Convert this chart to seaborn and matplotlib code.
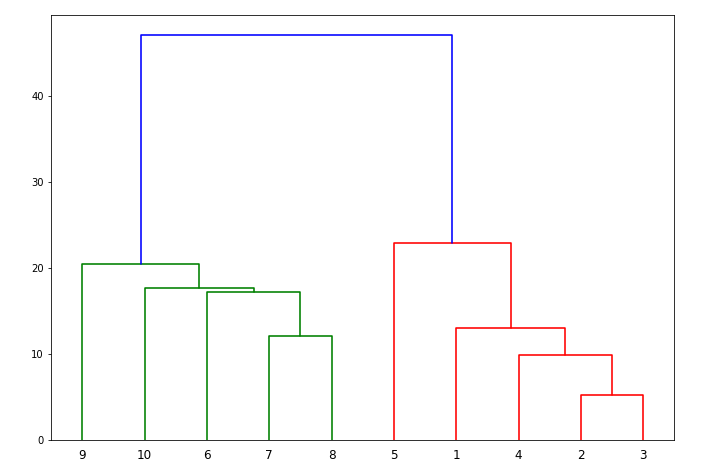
import numpy as np
import pandas as pd
import matplotlib
matplotlib.use("Agg")
import matplotlib.pyplot as plt
import seaborn as sns

# Observation labels (leaf ids)
leaf_labels = ["1", "2", "3", "4", "5", "6", "7", "8", "9", "10"]
# Linkage: (left child, right child, merge height); children < 10 are leaves
merge_left = [1, 3, 6, 0, 5, 9, 8, 4, 16]
merge_right = [2, 10, 7, 11, 12, 14, 15, 13, 17]
merge_height = [5.2, 9.9, 12.1, 13.0, 17.2, 17.7, 20.5, 22.9, 47.1]
color_threshold = 33.0
cluster_colors = ["green", "red"]
above_color = "blue"

n = len(leaf_labels)

# leaf order (left-first traversal)
def leaves_of(node):
    if node < n:
        return [node]
    k = node - n
    return leaves_of(merge_left[k]) + leaves_of(merge_right[k])

root = n + len(merge_height) - 1
order = leaves_of(root)
leaf_x = {leaf: 5 + 10 * i for i, leaf in enumerate(order)}

def node_pos(node):
    if node < n:
        return leaf_x[node], 0.0
    k = node - n
    xa, _ = node_pos(merge_left[k])
    xb, _ = node_pos(merge_right[k])
    return (xa + xb) / 2.0, merge_height[k]

# assign cluster colors to subtrees below threshold, in left-to-right order
node_color = {}
color_iter = iter(cluster_colors)
def assign(node):
    if node < n:
        return
    k = node - n
    if merge_height[k] < color_threshold:
        c = next(color_iter)
        stack = [node]
        while stack:
            m = stack.pop()
            if m >= n:
                node_color[m] = c
                stack += [merge_left[m - n], merge_right[m - n]]
    else:
        node_color[node] = above_color
        assign(merge_left[k])
        assign(merge_right[k])
assign(root)

rows = []
for k in range(len(merge_height)):
    node = n + k
    xa, ya = node_pos(merge_left[k])
    xb, yb = node_pos(merge_right[k])
    h = merge_height[k]
    for i, (x, y) in enumerate([(xa, ya), (xa, h), (xb, h), (xb, yb)]):
        rows.append({"link": k, "step": i, "x": x, "y": y, "color": node_color[node]})
df = pd.DataFrame(rows)

sns.set_style("white")
fig = plt.figure(figsize=(10, 472 / 72), dpi=72)
ax = fig.add_axes([0.0708, 0.068, 0.866, 0.9])

palette = {"green": (0, 0.5, 0), "red": (1, 0, 0), "blue": (0, 0, 1)}
sns.lineplot(data=df, x="x", y="y", units="link", hue="color", palette=palette,
             estimator=None, sort=False, legend=False, linewidth=1.6, ax=ax)

ax.set_xlim(0, 10 * n)
ax.set_ylim(0, max(merge_height) * 1.05)
ax.set_xticks([5 + 10 * i for i in range(n)])
ax.set_xticklabels([leaf_labels[l] for l in order], fontsize=12)
ax.set_yticks([0, 10, 20, 30, 40])
ax.tick_params(axis="y", labelsize=10, left=True, length=3.5, width=0.8,
               color="black", labelcolor="black")
ax.tick_params(axis="x", bottom=False, pad=6, labelcolor="black")
ax.set_xlabel("")
ax.set_ylabel("")
for s in ax.spines.values():
    s.set_color("black")
    s.set_linewidth(0.8)

fig.savefig("out.png", dpi=72, facecolor="white")
